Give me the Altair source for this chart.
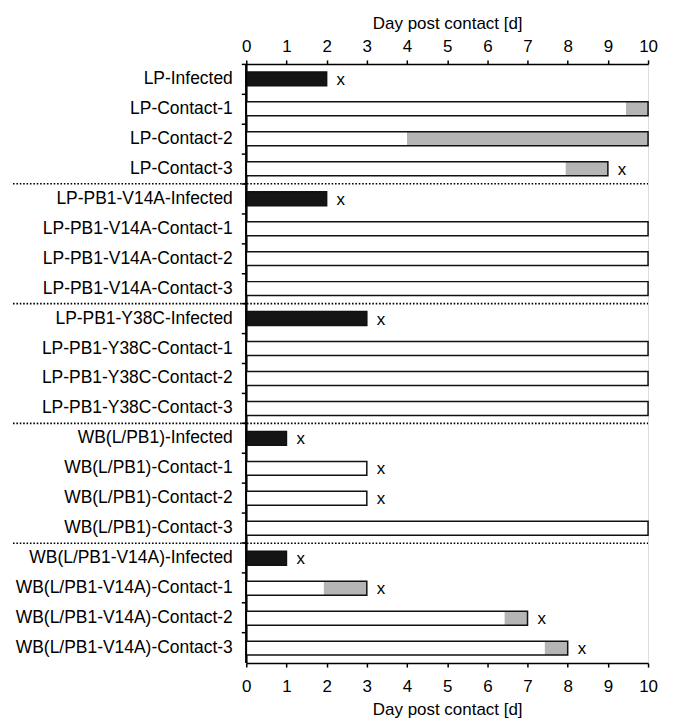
import altair as alt
import pandas as pd

FONT = "Liberation Sans"

rows = [
    "LP-Infected", "LP-Contact-1", "LP-Contact-2", "LP-Contact-3",
    "LP-PB1-V14A-Infected", "LP-PB1-V14A-Contact-1", "LP-PB1-V14A-Contact-2", "LP-PB1-V14A-Contact-3",
    "LP-PB1-Y38C-Infected", "LP-PB1-Y38C-Contact-1", "LP-PB1-Y38C-Contact-2", "LP-PB1-Y38C-Contact-3",
    "WB(L/PB1)-Infected", "WB(L/PB1)-Contact-1", "WB(L/PB1)-Contact-2", "WB(L/PB1)-Contact-3",
    "WB(L/PB1-V14A)-Infected", "WB(L/PB1-V14A)-Contact-1", "WB(L/PB1-V14A)-Contact-2", "WB(L/PB1-V14A)-Contact-3",
]
ends = [2, 10, 10, 9,
        2, 10, 10, 10,
        3, 10, 10, 10,
        1, 3, 3, 10,
        1, 3, 7, 8]
gray_starts = [None, 9.45, 4.0, 7.95,
               None, None, None, None,
               None, None, None, None,
               None, None, None, None,
               None, 1.93, 6.43, 7.43]
died = [1, 0, 0, 1,
        1, 0, 0, 0,
        1, 0, 0, 0,
        1, 1, 1, 0,
        1, 1, 1, 1]
separator_rows = ["LP-PB1-V14A-Infected", "LP-PB1-Y38C-Infected",
                  "WB(L/PB1)-Infected", "WB(L/PB1-V14A)-Infected"]
x_ticks = [0, 1, 2, 3, 4, 5, 6, 7, 8, 9, 10]
x_title = "Day post contact [d]"

seg = []
for r, e, g in zip(rows, ends, gray_starts):
    if r.endswith("Infected"):
        seg.append(dict(row=r, start=0, end=e, kind="infected"))
    elif g is None:
        seg.append(dict(row=r, start=0, end=e, kind="negative"))
    else:
        seg.append(dict(row=r, start=0, end=g, kind="negative"))
        seg.append(dict(row=r, start=g, end=e, kind="positive"))
seg_df = pd.DataFrame(seg)
out_df = pd.DataFrame(dict(row=rows, start=[0] * len(rows), end=ends))
dead_df = pd.DataFrame([dict(row=r, end=e) for r, e, d in zip(rows, ends, died) if d])
sep_df = pd.DataFrame(dict(row=separator_rows))

xscale = alt.Scale(domain=[0, 10], nice=False, zero=False)
yscale = alt.Scale(domain=rows, paddingInner=0, paddingOuter=0)


def xaxis(orient, label_pad, title_pad):
    return alt.Axis(orient=orient, values=x_ticks, title=x_title, grid=False,
                    domain=True, domainColor="black", domainWidth=1.5, tickColor="black",
                    tickWidth=1.5, tickSize=4, labelFontSize=17, labelFont=FONT,
                    labelColor="black", labelPadding=label_pad, titleFont=FONT,
                    titleFontSize=17, titleFontWeight="normal", titleColor="black",
                    titlePadding=title_pad, labelFlush=False)


yaxis = alt.Axis(title=None, domain=True, domainColor="black", domainWidth=1.5,
                 tickColor="black", tickWidth=1.5, tickSize=5, bandPosition=0,
                 labelFontSize=17.5, labelFont=FONT, labelColor="black", labelPadding=9,
                 labelLimit=400, grid=False)

Y = alt.Y("row:N", scale=yscale, sort=rows, axis=yaxis)

fills = alt.Chart(seg_df).mark_bar(size=14, stroke=None).encode(
    x=alt.X("start:Q", scale=xscale, axis=xaxis("top", 4, 6)),
    x2="end:Q",
    y=Y,
    color=alt.Color("kind:N", scale=alt.Scale(domain=["infected", "negative", "positive"],
                                              range=["#151515", "#ffffff", "#b5b5b5"]),
                    legend=None),
)

outline = alt.Chart(out_df).mark_bar(size=14, fillOpacity=0, stroke="#111111",
                                     strokeWidth=1.5).encode(
    x=alt.X("start:Q", scale=xscale, axis=xaxis("bottom", 11, 8)),
    x2="end:Q",
    y=Y,
)

marks = alt.Chart(dead_df).mark_text(text="x", align="left", dx=10, dy=1,
                                     baseline="middle", fontSize=17, font=FONT,
                                     color="black").encode(
    x=alt.X("end:Q", scale=xscale, axis=None),
    y=Y,
)

seps = alt.Chart(sep_df).mark_rule(color="black", strokeWidth=1.6,
                                   strokeDash=[1.6, 1.8]).encode(
    y=alt.Y("row:N", scale=yscale, sort=rows, bandPosition=0, axis=yaxis),
    x=alt.value(-234),
    x2=alt.value(403),
)

yline = alt.Chart(sep_df).mark_rule(color="black", strokeWidth=1.5).encode(
    x=alt.value(0),
    y=alt.value(0),
    y2=alt.value(601),
)

chart = alt.layer(fills, outline, marks, seps, yline).resolve_axis(x="independent").properties(
    width=403, height=601, autosize="none",
    padding={"left": 239, "top": 55, "right": 20, "bottom": 55},
).configure_view(stroke=None).configure(background="white")

chart.save("out.html", embed_options={"renderer": "svg", "actions": False})
